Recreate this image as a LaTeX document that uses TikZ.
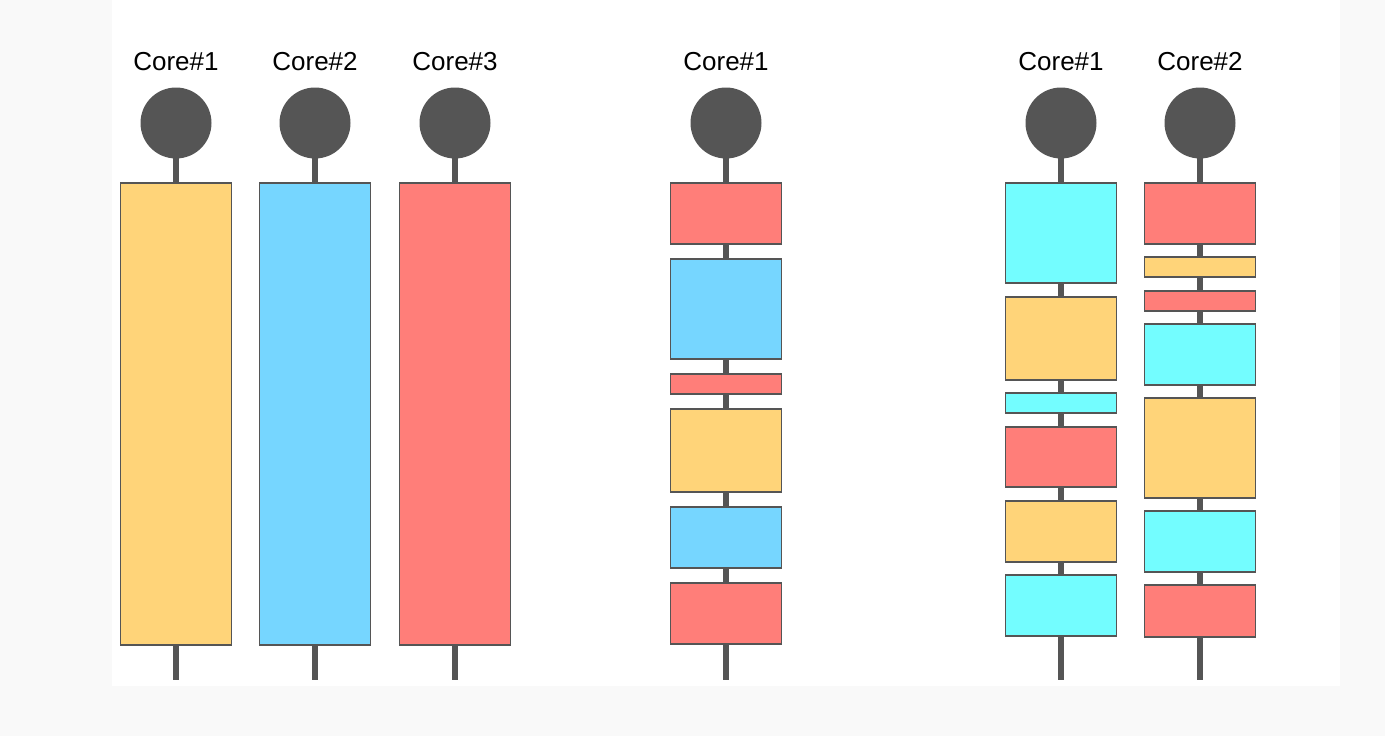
\documentclass[tikz,border=0pt]{standalone}
\usepackage{fontspec}
\setmainfont{Liberation Sans}
\definecolor{bgc}{HTML}{F9F9F9}
\definecolor{ink}{HTML}{555555}
\definecolor{cyel}{HTML}{FFD479}
\definecolor{cblu}{HTML}{76D6FF}
\definecolor{cred}{HTML}{FF7E79}
\definecolor{ccya}{HTML}{73FDFF}
\tikzset{
  core/.style={circle, fill=ink, draw=none, minimum size=71pt, inner sep=0pt},
  stem/.style={draw=ink, line width=6pt},
  blk/.style={rectangle, draw=ink, line width=1.8pt, minimum width=111pt, inner sep=0pt, outer sep=0pt},
  lbl/.style={anchor=base, font=\fontsize{26}{30}\selectfont, text=black, inner sep=0pt}
}
\newcommand{\blkat}[5]{% name, x, top, bottom, colour
  \pgfmathsetmacro{\bh}{#4-#3}\pgfmathsetmacro{\bm}{(#3+#4)/2}
  \node[blk, fill=#5, minimum height=\bh pt] (#1) at (#2,\bm) {};}
\begin{document}
\begin{tikzpicture}[x=1pt,y=-1pt]
\useasboundingbox (0,0) rectangle (1385,736);
\fill[bgc] (0,0) rectangle (1385,736);
\fill[white] (112,0) rectangle (1340,686);
% cores
\foreach \n/\x/\t in {a/176/1, b/315/2, c/455/3, d/726/1, e/1061/1, f/1200/2}{
  \node[lbl] (t\n) at (\x,70) {Core\#\t};
  \node[core] (c\n) at (\x,123) {};
  \coordinate (e\n) at (\x,680);
  \draw[stem] (c\n.center) -- (e\n);
}
% group 1
\blkat{a1}{176}{183}{645}{cyel}
\blkat{b1}{315}{183}{645}{cblu}
\blkat{c1}{455}{183}{645}{cred}
% group 2
\blkat{d1}{726}{183}{244}{cred}
\blkat{d2}{726}{259}{359}{cblu}
\blkat{d3}{726}{374}{394}{cred}
\blkat{d4}{726}{409}{492}{cyel}
\blkat{d5}{726}{507}{568}{cblu}
\blkat{d6}{726}{583}{644}{cred}
% group 3, column 1
\blkat{e1}{1061}{183}{283}{ccya}
\blkat{e2}{1061}{297}{380}{cyel}
\blkat{e3}{1061}{393}{413}{ccya}
\blkat{e4}{1061}{427}{487}{cred}
\blkat{e5}{1061}{501}{562}{cyel}
\blkat{e6}{1061}{575}{636}{ccya}
% group 3, column 2
\blkat{f1}{1200}{183}{244}{cred}
\blkat{f2}{1200}{257}{277}{cyel}
\blkat{f3}{1200}{291}{311}{cred}
\blkat{f4}{1200}{324}{385}{ccya}
\blkat{f5}{1200}{398}{498}{cyel}
\blkat{f6}{1200}{511}{572}{ccya}
\blkat{f7}{1200}{585}{637}{cred}
\end{tikzpicture}
\end{document}
